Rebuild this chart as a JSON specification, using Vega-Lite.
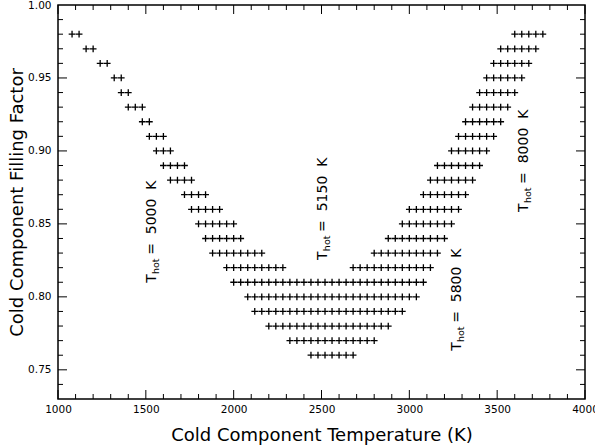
{
  "$schema": "https://vega.github.io/schema/vega-lite/v6.json",
  "autosize": {"type": "none"},
  "padding": {"left": 58, "top": 5, "right": 10, "bottom": 46},
  "width": 527,
  "height": 394,
  "background": "white",
  "config": {
    "view": {"stroke": "black", "strokeWidth": 1.5, "fill": null},
    "axis": {
      "grid": false,
      "domain": false,
      "ticks": false,
      "labelFont": "DejaVu Sans",
      "labelFontSize": 10.5,
      "labelColor": "black",
      "labelOverlap": false,
      "labelBound": false,
      "titleFont": "DejaVu Sans",
      "titleFontSize": 18,
      "titleFontWeight": "normal",
      "titleColor": "black"
    }
  },
  "datasets": {
    "pts": [
      {"T":1080,"f":0.98},{"T":1120,"f":0.98},
      {"T":1160,"f":0.97},{"T":1200,"f":0.97},
      {"T":1240,"f":0.96},{"T":1280,"f":0.96},
      {"T":1320,"f":0.95},{"T":1360,"f":0.95},
      {"T":1360,"f":0.94},{"T":1400,"f":0.94},
      {"T":1400,"f":0.93},{"T":1440,"f":0.93},{"T":1480,"f":0.93},
      {"T":1480,"f":0.92},{"T":1520,"f":0.92},
      {"T":1520,"f":0.91},{"T":1560,"f":0.91},{"T":1600,"f":0.91},
      {"T":1560,"f":0.90},{"T":1600,"f":0.90},{"T":1640,"f":0.90},
      {"T":1600,"f":0.89},{"T":1640,"f":0.89},{"T":1680,"f":0.89},{"T":1720,"f":0.89},
      {"T":1640,"f":0.88},{"T":1680,"f":0.88},{"T":1720,"f":0.88},{"T":1760,"f":0.88},
      {"T":1720,"f":0.87},{"T":1760,"f":0.87},{"T":1800,"f":0.87},{"T":1840,"f":0.87},
      {"T":1760,"f":0.86},{"T":1800,"f":0.86},{"T":1840,"f":0.86},{"T":1880,"f":0.86},{"T":1920,"f":0.86},
      {"T":1800,"f":0.85},{"T":1840,"f":0.85},{"T":1880,"f":0.85},{"T":1920,"f":0.85},{"T":1960,"f":0.85},{"T":2000,"f":0.85},
      {"T":1840,"f":0.84},{"T":1880,"f":0.84},{"T":1920,"f":0.84},{"T":1960,"f":0.84},{"T":2000,"f":0.84},{"T":2040,"f":0.84},
      {"T":1880,"f":0.83},{"T":1920,"f":0.83},{"T":1960,"f":0.83},{"T":2000,"f":0.83},{"T":2040,"f":0.83},{"T":2080,"f":0.83},{"T":2120,"f":0.83},{"T":2160,"f":0.83},
      {"T":1960,"f":0.82},{"T":2000,"f":0.82},{"T":2040,"f":0.82},{"T":2080,"f":0.82},{"T":2120,"f":0.82},{"T":2160,"f":0.82},{"T":2200,"f":0.82},{"T":2240,"f":0.82},{"T":2280,"f":0.82},

      {"T":3600,"f":0.98},{"T":3640,"f":0.98},{"T":3680,"f":0.98},{"T":3720,"f":0.98},{"T":3760,"f":0.98},
      {"T":3520,"f":0.97},{"T":3560,"f":0.97},{"T":3600,"f":0.97},{"T":3640,"f":0.97},{"T":3680,"f":0.97},{"T":3720,"f":0.97},
      {"T":3480,"f":0.96},{"T":3520,"f":0.96},{"T":3560,"f":0.96},{"T":3600,"f":0.96},{"T":3640,"f":0.96},{"T":3680,"f":0.96},
      {"T":3440,"f":0.95},{"T":3480,"f":0.95},{"T":3520,"f":0.95},{"T":3560,"f":0.95},{"T":3600,"f":0.95},{"T":3640,"f":0.95},
      {"T":3400,"f":0.94},{"T":3440,"f":0.94},{"T":3480,"f":0.94},{"T":3520,"f":0.94},{"T":3560,"f":0.94},{"T":3600,"f":0.94},
      {"T":3360,"f":0.93},{"T":3400,"f":0.93},{"T":3440,"f":0.93},{"T":3480,"f":0.93},{"T":3520,"f":0.93},{"T":3560,"f":0.93},
      {"T":3320,"f":0.92},{"T":3360,"f":0.92},{"T":3400,"f":0.92},{"T":3440,"f":0.92},{"T":3480,"f":0.92},{"T":3520,"f":0.92},
      {"T":3280,"f":0.91},{"T":3320,"f":0.91},{"T":3360,"f":0.91},{"T":3400,"f":0.91},{"T":3440,"f":0.91},{"T":3480,"f":0.91},
      {"T":3240,"f":0.90},{"T":3280,"f":0.90},{"T":3320,"f":0.90},{"T":3360,"f":0.90},{"T":3400,"f":0.90},{"T":3440,"f":0.90},
      {"T":3160,"f":0.89},{"T":3200,"f":0.89},{"T":3240,"f":0.89},{"T":3280,"f":0.89},{"T":3320,"f":0.89},{"T":3360,"f":0.89},{"T":3400,"f":0.89},
      {"T":3120,"f":0.88},{"T":3160,"f":0.88},{"T":3200,"f":0.88},{"T":3240,"f":0.88},{"T":3280,"f":0.88},{"T":3320,"f":0.88},{"T":3360,"f":0.88},
      {"T":3080,"f":0.87},{"T":3120,"f":0.87},{"T":3160,"f":0.87},{"T":3200,"f":0.87},{"T":3240,"f":0.87},{"T":3280,"f":0.87},{"T":3320,"f":0.87},
      {"T":3000,"f":0.86},{"T":3040,"f":0.86},{"T":3080,"f":0.86},{"T":3120,"f":0.86},{"T":3160,"f":0.86},{"T":3200,"f":0.86},{"T":3240,"f":0.86},{"T":3280,"f":0.86},
      {"T":2960,"f":0.85},{"T":3000,"f":0.85},{"T":3040,"f":0.85},{"T":3080,"f":0.85},{"T":3120,"f":0.85},{"T":3160,"f":0.85},{"T":3200,"f":0.85},{"T":3240,"f":0.85},
      {"T":2880,"f":0.84},{"T":2920,"f":0.84},{"T":2960,"f":0.84},{"T":3000,"f":0.84},{"T":3040,"f":0.84},{"T":3080,"f":0.84},{"T":3120,"f":0.84},{"T":3160,"f":0.84},{"T":3200,"f":0.84},
      {"T":2800,"f":0.83},{"T":2840,"f":0.83},{"T":2880,"f":0.83},{"T":2920,"f":0.83},{"T":2960,"f":0.83},{"T":3000,"f":0.83},{"T":3040,"f":0.83},{"T":3080,"f":0.83},{"T":3120,"f":0.83},{"T":3160,"f":0.83},
      {"T":2680,"f":0.82},{"T":2720,"f":0.82},{"T":2760,"f":0.82},{"T":2800,"f":0.82},{"T":2840,"f":0.82},{"T":2880,"f":0.82},{"T":2920,"f":0.82},{"T":2960,"f":0.82},{"T":3000,"f":0.82},{"T":3040,"f":0.82},{"T":3080,"f":0.82},{"T":3120,"f":0.82},

      {"T":2000,"f":0.81},{"T":2040,"f":0.81},{"T":2080,"f":0.81},{"T":2120,"f":0.81},{"T":2160,"f":0.81},{"T":2200,"f":0.81},{"T":2240,"f":0.81},{"T":2280,"f":0.81},{"T":2320,"f":0.81},{"T":2360,"f":0.81},{"T":2400,"f":0.81},{"T":2440,"f":0.81},{"T":2480,"f":0.81},{"T":2520,"f":0.81},{"T":2560,"f":0.81},{"T":2600,"f":0.81},{"T":2640,"f":0.81},{"T":2680,"f":0.81},{"T":2720,"f":0.81},{"T":2760,"f":0.81},{"T":2800,"f":0.81},{"T":2840,"f":0.81},{"T":2880,"f":0.81},{"T":2920,"f":0.81},{"T":2960,"f":0.81},{"T":3000,"f":0.81},{"T":3040,"f":0.81},{"T":3080,"f":0.81},
      {"T":2080,"f":0.80},{"T":2120,"f":0.80},{"T":2160,"f":0.80},{"T":2200,"f":0.80},{"T":2240,"f":0.80},{"T":2280,"f":0.80},{"T":2320,"f":0.80},{"T":2360,"f":0.80},{"T":2400,"f":0.80},{"T":2440,"f":0.80},{"T":2480,"f":0.80},{"T":2520,"f":0.80},{"T":2560,"f":0.80},{"T":2600,"f":0.80},{"T":2640,"f":0.80},{"T":2680,"f":0.80},{"T":2720,"f":0.80},{"T":2760,"f":0.80},{"T":2800,"f":0.80},{"T":2840,"f":0.80},{"T":2880,"f":0.80},{"T":2920,"f":0.80},{"T":2960,"f":0.80},{"T":3000,"f":0.80},{"T":3040,"f":0.80},
      {"T":2120,"f":0.79},{"T":2160,"f":0.79},{"T":2200,"f":0.79},{"T":2240,"f":0.79},{"T":2280,"f":0.79},{"T":2320,"f":0.79},{"T":2360,"f":0.79},{"T":2400,"f":0.79},{"T":2440,"f":0.79},{"T":2480,"f":0.79},{"T":2520,"f":0.79},{"T":2560,"f":0.79},{"T":2600,"f":0.79},{"T":2640,"f":0.79},{"T":2680,"f":0.79},{"T":2720,"f":0.79},{"T":2760,"f":0.79},{"T":2800,"f":0.79},{"T":2840,"f":0.79},{"T":2880,"f":0.79},{"T":2920,"f":0.79},{"T":2960,"f":0.79},
      {"T":2200,"f":0.78},{"T":2240,"f":0.78},{"T":2280,"f":0.78},{"T":2320,"f":0.78},{"T":2360,"f":0.78},{"T":2400,"f":0.78},{"T":2440,"f":0.78},{"T":2480,"f":0.78},{"T":2520,"f":0.78},{"T":2560,"f":0.78},{"T":2600,"f":0.78},{"T":2640,"f":0.78},{"T":2680,"f":0.78},{"T":2720,"f":0.78},{"T":2760,"f":0.78},{"T":2800,"f":0.78},{"T":2840,"f":0.78},{"T":2880,"f":0.78},
      {"T":2320,"f":0.77},{"T":2360,"f":0.77},{"T":2400,"f":0.77},{"T":2440,"f":0.77},{"T":2480,"f":0.77},{"T":2520,"f":0.77},{"T":2560,"f":0.77},{"T":2600,"f":0.77},{"T":2640,"f":0.77},{"T":2680,"f":0.77},{"T":2720,"f":0.77},{"T":2760,"f":0.77},{"T":2800,"f":0.77},
      {"T":2440,"f":0.76},{"T":2480,"f":0.76},{"T":2520,"f":0.76},{"T":2560,"f":0.76},{"T":2600,"f":0.76},{"T":2640,"f":0.76},{"T":2680,"f":0.76}
    ],
    "labels": [
      {"T":1558,"f":0.8096,"rest":"=\u00a0\u00a05000\u00a0\u00a0K"},
      {"T":2531,"f":0.8253,"rest":"=\u00a0\u00a05150\u00a0\u00a0K"},
      {"T":3294,"f":0.7630,"rest":"=\u00a0\u00a05800\u00a0\u00a0K"},
      {"T":3675,"f":0.8582,"rest":"=\u00a0\u00a08000\u00a0\u00a0K"}
    ],
    "xmajor": [{"T":1000},{"T":1500},{"T":2000},{"T":2500},{"T":3000},{"T":3500},{"T":4000}],
    "xminor": [{"T":1100},{"T":1200},{"T":1300},{"T":1400},{"T":1600},{"T":1700},{"T":1800},{"T":1900},{"T":2100},{"T":2200},{"T":2300},{"T":2400},{"T":2600},{"T":2700},{"T":2800},{"T":2900},{"T":3100},{"T":3200},{"T":3300},{"T":3400},{"T":3600},{"T":3700},{"T":3800},{"T":3900}],
    "ymajor": [{"f":0.75},{"f":0.80},{"f":0.85},{"f":0.90},{"f":0.95}],
    "yminor": [{"f":0.74},{"f":0.76},{"f":0.77},{"f":0.78},{"f":0.79},{"f":0.81},{"f":0.82},{"f":0.83},{"f":0.84},{"f":0.86},{"f":0.87},{"f":0.88},{"f":0.89},{"f":0.91},{"f":0.92},{"f":0.93},{"f":0.94},{"f":0.96},{"f":0.97},{"f":0.98},{"f":0.99}]
  },
  "encoding": {
    "x": {"type": "quantitative",
          "scale": {"domain": [1000, 4000], "nice": false, "zero": false},
          "axis": {"orient": "bottom", "grid": false, "ticks": false, "domain": false, "labelFlush": false, "values": [1000, 1500, 2000, 2500, 3000, 3500, 4000], "format": "d", "labelPadding": 5, "titlePadding": 12, "title": "Cold Component Temperature (K)"}},
    "y": {"type": "quantitative",
          "scale": {"domain": [0.73, 1.0], "nice": false, "zero": false},
          "axis": {"orient": "left", "grid": false, "ticks": false, "domain": false, "values": [0.75, 0.8, 0.85, 0.9, 0.95, 1.0], "format": ".2f", "labelPadding": 7, "titlePadding": 1, "title": "Cold Component Filling Factor"}}
  },
  "layer": [
    {
      "data": {"name": "pts"},
      "mark": {"type": "point", "shape": "M-1,0H1M0,-1V1", "filled": false, "stroke": "black", "strokeWidth": 1.3, "size": 46, "opacity": 1},
      "encoding": {"x": {"field": "T"}, "y": {"field": "f"}}
    },
    {
      "data": {"name": "labels"},
      "mark": {"type": "text", "text": "T", "angle": 270, "align": "left", "baseline": "alphabetic", "font": "DejaVu Sans", "fontSize": 14, "color": "black"},
      "encoding": {"x": {"field": "T"}, "y": {"field": "f"}}
    },
    {
      "data": {"name": "labels"},
      "mark": {"type": "text", "text": "hot", "angle": 270, "align": "left", "baseline": "alphabetic", "dx": 8.8, "dy": 3, "font": "DejaVu Sans", "fontSize": 9.5, "color": "black"},
      "encoding": {"x": {"field": "T"}, "y": {"field": "f"}}
    },
    {
      "data": {"name": "labels"},
      "mark": {"type": "text", "angle": 270, "align": "left", "baseline": "alphabetic", "dx": 28, "font": "DejaVu Sans", "fontSize": 14, "color": "black"},
      "encoding": {"text": {"field": "rest", "type": "nominal"}, "x": {"field": "T"}, "y": {"field": "f"}}
    },
    {
      "data": {"name": "xmajor"},
      "mark": {"type": "point", "shape": "M0,0V-1", "filled": false, "stroke": "black", "strokeWidth": 1, "size": 324, "opacity": 1},
      "encoding": {"x": {"field": "T"}, "y": {"datum": 0.73}}
    },
    {
      "data": {"name": "xmajor"},
      "mark": {"type": "point", "shape": "M0,0V1", "filled": false, "stroke": "black", "strokeWidth": 1, "size": 324, "opacity": 1},
      "encoding": {"x": {"field": "T"}, "y": {"datum": 1.0}}
    },
    {
      "data": {"name": "xminor"},
      "mark": {"type": "point", "shape": "M0,0V-1", "filled": false, "stroke": "black", "strokeWidth": 1, "size": 100, "opacity": 1},
      "encoding": {"x": {"field": "T"}, "y": {"datum": 0.73}}
    },
    {
      "data": {"name": "xminor"},
      "mark": {"type": "point", "shape": "M0,0V1", "filled": false, "stroke": "black", "strokeWidth": 1, "size": 100, "opacity": 1},
      "encoding": {"x": {"field": "T"}, "y": {"datum": 1.0}}
    },
    {
      "data": {"name": "ymajor"},
      "mark": {"type": "point", "shape": "M0,0H1", "filled": false, "stroke": "black", "strokeWidth": 1, "size": 324, "opacity": 1},
      "encoding": {"y": {"field": "f"}, "x": {"datum": 1000}}
    },
    {
      "data": {"name": "ymajor"},
      "mark": {"type": "point", "shape": "M0,0H-1", "filled": false, "stroke": "black", "strokeWidth": 1, "size": 324, "opacity": 1},
      "encoding": {"y": {"field": "f"}, "x": {"datum": 4000}}
    },
    {
      "data": {"name": "yminor"},
      "mark": {"type": "point", "shape": "M0,0H1", "filled": false, "stroke": "black", "strokeWidth": 1, "size": 100, "opacity": 1},
      "encoding": {"y": {"field": "f"}, "x": {"datum": 1000}}
    },
    {
      "data": {"name": "yminor"},
      "mark": {"type": "point", "shape": "M0,0H-1", "filled": false, "stroke": "black", "strokeWidth": 1, "size": 100, "opacity": 1},
      "encoding": {"y": {"field": "f"}, "x": {"datum": 4000}}
    }
  ]
}
